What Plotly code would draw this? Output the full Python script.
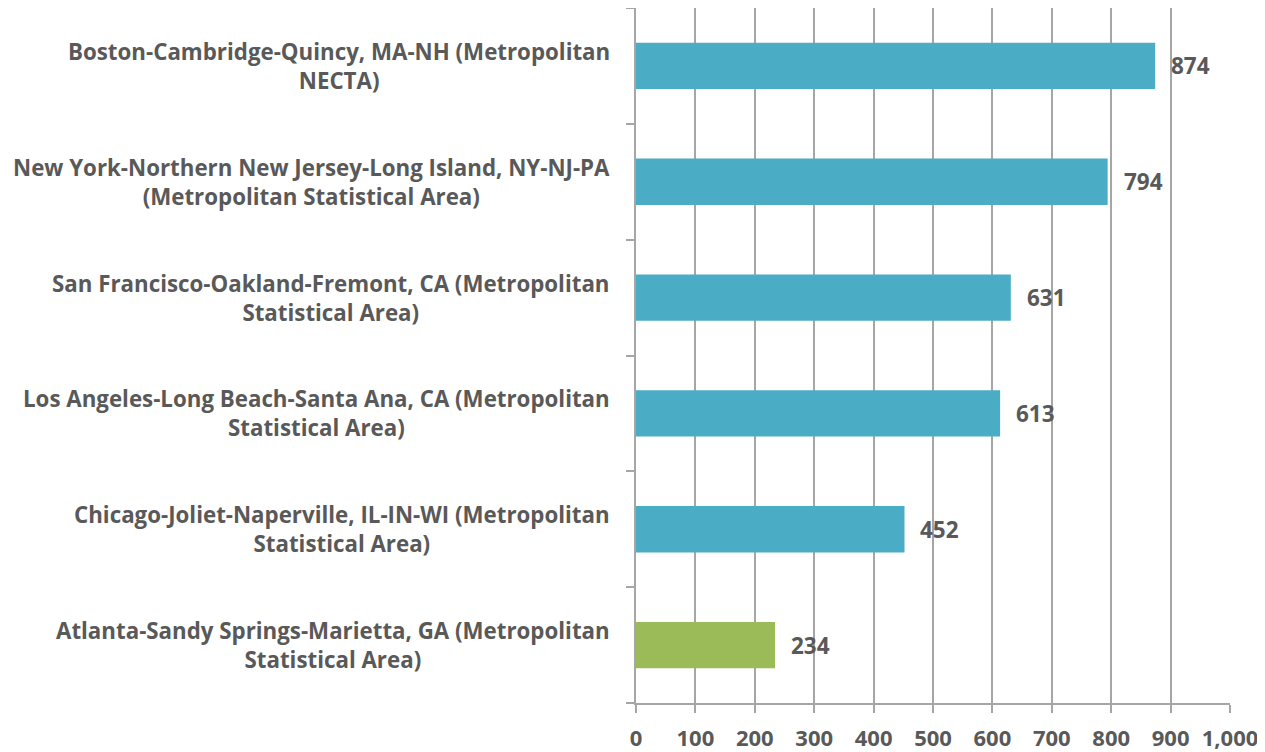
import plotly.graph_objects as go

categories = [
    "Boston-Cambridge-Quincy, MA-NH (Metropolitan<br>NECTA)",
    "New York-Northern New Jersey-Long Island, NY-NJ-PA<br>(Metropolitan Statistical Area)",
    "San Francisco-Oakland-Fremont, CA (Metropolitan<br>Statistical Area)",
    "Los Angeles-Long Beach-Santa Ana, CA (Metropolitan<br>Statistical Area)",
    "Chicago-Joliet-Naperville, IL-IN-WI (Metropolitan<br>Statistical Area)",
    "Atlanta-Sandy Springs-Marietta, GA (Metropolitan<br>Statistical Area)",
]
values = [874, 794, 631, 613, 452, 234]
colors = ["#4BACC6", "#4BACC6", "#4BACC6", "#4BACC6", "#4BACC6", "#9BBB59"]

FONT = "Open Sans"
TXT = "#595959"
GRID = "#a6a6a6"

fig = go.Figure()
fig.add_trace(go.Bar(
    x=values, y=categories, orientation="h",
    marker=dict(color=colors, line=dict(width=0)),
    width=0.4, hoverinfo="x+y",
))

for c, v in zip(categories, values):
    fig.add_annotation(x=v, y=c, xref="x", yref="y", text=f"<b>{v}</b>",
                       showarrow=False, xanchor="left", xshift=14,
                       font=dict(family=FONT, size=22.5, color=TXT))
    fig.add_annotation(x=0, y=c, xref="paper", yref="y", text=f"<b>{c}</b>",
                       showarrow=False, xanchor="right", xshift=-24, align="center",
                       font=dict(family=FONT, size=22.3, color=TXT))

fig.update_layout(
    width=1265, height=752,
    margin=dict(l=628, r=43, t=0, b=57),
    plot_bgcolor="white", paper_bgcolor="white",
    showlegend=False, bargap=0.6,
    font=dict(family=FONT, color=TXT),
)
fig.update_xaxes(
    range=[0, 1000], dtick=100, tickformat=",", showgrid=True, gridcolor=GRID, gridwidth=2,
    showline=True, linecolor=GRID, linewidth=2, ticks="outside", ticklen=8, tickwidth=2,
    tickcolor=GRID, zeroline=False, ticklabelstandoff=7,
    tickfont=dict(family=FONT, size=22, color=TXT, weight="bold"),
)
fig.update_yaxes(
    categoryorder="array", categoryarray=categories[::-1], showgrid=False,
    showline=True, linecolor=GRID, linewidth=2, ticks="outside", ticklen=8, tickwidth=2,
    tickcolor=GRID, tickson="boundaries", showticklabels=False, zeroline=False,
)

fig.write_html("out.html")
